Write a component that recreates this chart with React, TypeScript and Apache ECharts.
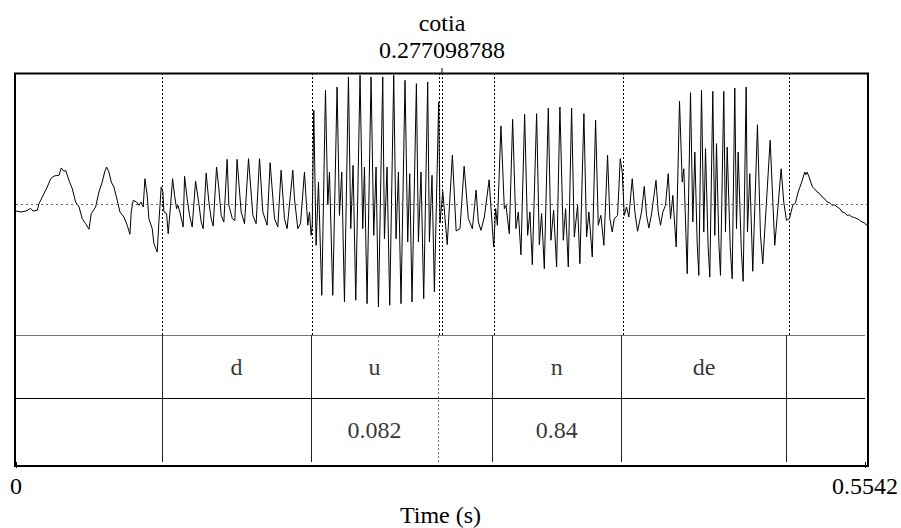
import React, { useEffect, useRef } from "react";
import * as echarts from "echarts";

// ---------- data ----------
const DURATION = 0.5542; // s
const X_TICKS = [0, 0.5542];
const SOUND_NAME = "cotia";
const CURSOR_TIME = 0.277098788;
const CURSOR_LABEL = "0.277098788";
const BOUNDARIES = [0.0952, 0.1926, 0.2755, 0.3108, 0.3953, 0.5029];
const DOTTED_TIER_BOUNDARY = 0.2755;
const TIER1_LABELS = ["", "d", "u", "", "n", "de", ""];
const TIER2_LABELS = ["", "", "0.082", "", "0.84", "", ""];

// waveform: [time in ms, relative amplitude]
const waveLead: number[][] = [
  [0, -0.05], [3.25, -0.057], [6.5, -0.05], [9.55, -0.03], [11.05, -0.05], [13.85, -0.044],
  [14.95, 0.006], [17.1, 0.057], [20.35, 0.134], [22.55, 0.198], [24.7, 0.218], [28, 0.224],
  [29.45, 0.28], [31.2, 0.254], [32.3, 0.262], [34.45, 0.185], [36.6, 0.121], [38.8, 0.019],
  [41, -0.019], [43.1, -0.109], [45.3, -0.147], [47.45, -0.19], [48.95, -0.07], [51.8, -0.019],
  [53.95, 0.096], [56.1, 0.172], [57.65, 0.249], [58.95, 0.287], [60.45, 0.249], [61.95, 0.172],
  [63.7, 0.134], [65.85, 0.032], [67.6, -0.057], [70.2, -0.096], [72.35, -0.159], [74.1, -0.228],
  [74.95, -0.057], [76.25, 0.032], [78.45, 0.019], [79.95, -0.006], [81.45, 0.019], [82.75, -0.019],
  [83.85, 0.198], [85.35, 0.07], [86.45, -0.109], [88.6, -0.185], [89.7, -0.3], [91.85, -0.364],
  [92.95, -0.134], [94.45, 0.134],
];
const waveD: number[][] = [
  [95.55, 0.096], [96.2, -0.057], [97.95, -0.07], [99, -0.224], [100.55, -0.006], [101.85, 0.198],
  [103.15, 0.07], [104.45, -0.032], [105.3, -0.006], [106.6, -0.057], [108.75, -0.172], [109.65, 0.216],
  [111.35, 0.044], [112.9, -0.083], [114.6, -0.172], [116.8, 0.18], [118.95, 0.006], [120.45, -0.134],
  [121.75, -0.185], [123.7, 0.241], [125.45, 0.019], [126.95, -0.109], [128.25, -0.165], [130.45, 0.287],
  [131.95, 0.121], [133.45, -0.083], [135.2, -0.134], [137.35, 0.346], [138.45, -0.006], [140.75, -0.109],
  [142.35, -0.123], [143.8, 0.346], [146.45, -0.057], [148.65, -0.147], [151.25, 0.351], [154.05, -0.083],
  [156.2, -0.147], [158.4, 0.351], [160.55, -0.057], [163.35, -0.159], [165.3, 0.32], [168.15, -0.109],
  [170.3, -0.172], [172.45, 0.262], [174.65, -0.109], [176.35, -0.185], [180.05, 0.262], [181.15, 0.044],
  [183.3, -0.185], [185.05, -0.147], [187.65, 0.249], [188.7, 0.044], [189.8, -0.159], [190.9, -0.057],
  [191.95, -0.236], [192.7, -0.157],
];
const waveU: number[][] = [
  [193.7, 0.722], [195.2, -0.313], [196.75, 0.172], [198.9, -0.696], [201.3, 0.875], [202.8, -0.004],
  [203.9, 0.249], [206.05, -0.696], [208.85, 0.9], [210.4, -0.083], [211.9, 0.249], [213.65, -0.747],
  [216.25, 0.977], [217.75, -0.185], [219.25, 0.3], [221, -0.734], [223.8, 0.99], [225.55, -0.185],
  [226.65, 0.287], [228.35, -0.76], [230.95, 0.977], [232.7, -0.236], [234.2, 0.287], [235.75, -0.785],
  [238.55, 0.977], [239.65, -0.262], [241.35, 0.287], [243.1, -0.772], [245.7, 0.99], [247.2, -0.262],
  [248.75, 0.249], [250.45, -0.76], [253.05, 0.952], [254.8, -0.287], [256.1, 0.236], [257.6, -0.747],
  [260.45, 0.926], [261.75, -0.287], [263.45, 0.249], [265.2, -0.722], [267.8, 0.939], [268.9, -0.287],
  [270.6, 0.224], [272.15, -0.67], [274.95, 0.785], [275.8, -0.142],
];
const waveGap: number[][] = [
  [277.6, 0.1], [280.5, -0.307], [283.85, 0.378], [286.3, -0.203], [288.8, -0.185], [291.5, 0.293],
  [294.25, -0.109], [296.85, -0.185], [299.3, 0.11], [300.75, -0.134], [302.45, -0.198], [304.65, -0.096],
  [307.75, 0.189], [310.7, -0.326],
];
const waveN: number[][] = [
  [312, -0.032], [313.1, -0.159], [315.45, 0.602], [317.65, -0.032], [318.7, -0.006], [320.9, -0.224],
  [323.05, 0.653], [325.2, -0.185], [326.75, -0.057], [328.45, -0.385], [330.85, 0.691], [332.8, -0.236],
  [334.3, -0.057], [335.85, -0.461], [338.65, 0.696], [340.4, -0.308], [341.9, -0.07], [343.65, -0.492],
  [346.25, 0.739], [347.95, -0.274], [349.7, -0.044], [351.65, -0.479], [353.8, 0.747], [356, -0.274],
  [357.5, -0.032], [359.25, -0.479], [361.4, 0.739], [363.15, -0.249], [365.3, -0.006], [366.8, -0.454],
  [369.4, 0.696], [371.15, -0.249], [372.65, -0.057], [374.85, -0.402], [377, 0.645], [378.75, -0.159],
  [380.45, -0.083], [382.4, -0.313], [384.8, 0.377], [386.3, -0.109], [387.85, -0.211], [389.15, -0.109],
  [391.3, -0.083], [393.05, 0.351], [394.35, 0.249],
];
const waveDe: number[][] = [
  [395.65, -0.083], [397.15, -0.019], [398.65, -0.096], [400.85, 0.198], [402.55, -0.057], [404.3, -0.205],
  [406.9, -0.057], [408.65, 0.139], [410.15, -0.083], [411.65, -0.18], [413.4, -0.073], [416.3, 0.185],
  [417.75, -0.057], [419.25, -0.159], [420.75, -0.057], [422.5, -0.006], [424.25, 0.236], [425.75, -0.109],
  [427.25, 0.07], [427.9, -0.057], [429.45, -0.326], [431.6, 0.791], [433.35, 0.172], [434.4, 0.274],
  [436.6, -0.53], [438.75, 0.857], [440.25, -0.134], [441.55, 0.402], [443.1, -0.3], [444.15, -0.543],
  [445.9, 0.875], [447.4, -0.211], [448.5, 0.428], [450.2, -0.32], [451.3, -0.556], [453.25, 0.867],
  [454.55, -0.236], [455.65, 0.466], [457.2, -0.3], [458.25, -0.543], [460.4, 0.867], [461.5, -0.211],
  [462.6, 0.44], [464.6, -0.33], [465.85, -0.569], [467.55, 0.893], [468.65, -0.185], [469.75, 0.402],
  [471.8, -0.35], [473, -0.589], [474.95, 0.9], [475.8, -0.211], [477.3, 0.236], [479.25, -0.512],
  [482.3, 0.611], [484.25, -0.236], [485.75, -0.454], [490.55, 0.492], [493.55, -0.313], [497.7, 0.274],
  [499.4, 0.019], [501.15, -0.121],
];
const waveTail: number[][] = [
  [503.1, -0.109], [505.25, -0.006], [507, 0.011], [508.75, 0.096], [510.9, 0.165], [513.05, 0.249],
  [513.8, 0.228], [514.6, 0.248], [516.1, 0.203], [518.05, 0.134], [519.6, 0.118], [521.1, 0.096],
  [522.7, 0.085], [524.35, 0.057], [526, 0.044], [527.6, 0.019], [529.2, 0.013], [530.85, -0.006],
  [532.5, -0.003], [534.1, -0.019], [535.7, -0.03], [537.35, -0.057], [539, -0.062], [540.6, -0.083],
  [542.2, -0.08], [543.85, -0.096], [545.5, -0.1], [547.1, -0.109], [548.7, -0.12], [550.35, -0.134],
  [551.9, -0.14], [553.15, -0.159], [554.2, -0.157],
];

// ---------- layout ----------
const FONT = "Liberation Serif";
const FS = 24;
const LEFT = 16;
const RIGHT = 33;
const TOP = 74;
const WAVE_BOTTOM = 335;
const BOTTOM = 466;

export default function App() {
  const ref = useRef<HTMLDivElement>(null);

  useEffect(() => {
    if (!ref.current) return;
    const chart = echarts.init(ref.current, undefined, { renderer: "svg" });

    const waveData = [waveLead, waveD, waveU, waveGap, waveN, waveDe, waveTail]
      .flat()
      .map(([ms, a]) => [ms / 1000, a]);

    const edges = [0, ...BOUNDARIES, DURATION];
    const tierPoints: any[] = [];
    for (let i = 0; i < edges.length - 1; i++) {
      const mid = (edges[i] + edges[i + 1]) / 2;
      if (TIER1_LABELS[i]) tierPoints.push({ value: [mid, 1.5], name: TIER1_LABELS[i] });
      if (TIER2_LABELS[i]) tierPoints.push({ value: [mid, 0.5], name: TIER2_LABELS[i] });
    }

    const dotted = { type: [2, 2] as any, color: "#000", width: 1 };

    chart.setOption({
      animation: false,
      backgroundColor: "#fff",
      grid: [
        { left: LEFT, right: RIGHT, top: TOP, height: WAVE_BOTTOM - TOP },
        { left: LEFT, right: RIGHT, top: WAVE_BOTTOM, height: BOTTOM - WAVE_BOTTOM },
      ],
      xAxis: [
        { gridIndex: 0, type: "value", min: 0, max: DURATION, show: false },
        {
          gridIndex: 1,
          type: "value",
          min: 0,
          max: DURATION,
          interval: DURATION,
          axisLine: { show: false },
          axisTick: { show: true, length: 6, lineStyle: { color: "#000", width: 1 } },
          splitLine: { show: false },
          axisLabel: {
            show: true,
            margin: 12,
            color: "#000",
            fontFamily: FONT,
            fontSize: FS,
            showMinLabel: true,
            showMaxLabel: true,
            formatter: (v: number) => {
              const t = X_TICKS.find((x) => Math.abs(x - v) < 1e-6);
              return t === undefined ? "" : String(t);
            },
          },
          name: "Time (s)",
          nameLocation: "middle",
          nameGap: 41,
          nameTextStyle: { color: "#000", fontFamily: FONT, fontSize: FS },
        },
      ],
      yAxis: [
        { gridIndex: 0, type: "value", min: -1, max: 1, show: false },
        { gridIndex: 1, type: "value", min: 0, max: 2, show: false },
      ],
      series: [
        {
          type: "line",
          xAxisIndex: 0,
          yAxisIndex: 0,
          data: waveData,
          showSymbol: false,
          symbol: "none",
          silent: true,
          lineStyle: { color: "#000", width: 1 },
          markLine: {
            silent: true,
            precision: 9,
            symbol: ["none", "none"],
            label: { show: false },
            data: [
              { yAxis: 0, lineStyle: { type: [2, 3], color: "#666", width: 1 } },
              ...BOUNDARIES.map((b) => ({ xAxis: b, lineStyle: dotted })),
              { xAxis: CURSOR_TIME, lineStyle: dotted },
            ],
          },
        },
        {
          type: "scatter",
          xAxisIndex: 1,
          yAxisIndex: 1,
          data: tierPoints,
          symbolSize: 1,
          silent: true,
          itemStyle: { color: "rgba(0,0,0,0)" },
          label: {
            show: true,
            position: "inside",
            formatter: "{b}",
            color: "#000",
            fontFamily: FONT,
            fontSize: FS,
          },
          markLine: {
            silent: true,
            precision: 9,
            symbol: ["none", "none"],
            label: { show: false },
            data: [
              { yAxis: 2, lineStyle: { type: "solid", color: "#777", width: 1 } },
              { yAxis: 1, lineStyle: { type: "solid", color: "#000", width: 1 } },
              ...BOUNDARIES.map((b) => ({
                xAxis: b,
                lineStyle:
                  b === DOTTED_TIER_BOUNDARY
                    ? { type: [2, 2] as any, color: "#777", width: 1 }
                    : { type: "solid", color: "#222", width: 1 },
              })),
            ],
          },
        },
      ],
    });

    const px = chart.convertToPixel({ xAxisIndex: 0 }, CURSOR_TIME) as number;
    const x0 = chart.convertToPixel({ xAxisIndex: 0 }, 0) as number;
    const x1 = chart.convertToPixel({ xAxisIndex: 0 }, DURATION) as number;
    chart.setOption({
      graphic: [
        {
          id: "frame",
          type: "rect",
          silent: true,
          shape: { x: x0 - 1, y: TOP - 0.5, width: x1 - x0 + 1, height: BOTTOM - TOP + 0.5 },
          style: { fill: "none", stroke: "#000", lineWidth: 2 },
          z: 10,
        },
        {
          id: "cursorTick",
          type: "line",
          silent: true,
          shape: { x1: px, y1: TOP - 6, x2: px, y2: TOP },
          style: { stroke: "#000", lineWidth: 1 },
          z: 10,
        },
        {
          id: "soundName",
          type: "text",
          silent: true,
          x: px,
          y: 23,
          style: {
            text: SOUND_NAME,
            align: "center",
            verticalAlign: "middle",
            fill: "#000",
            fontFamily: FONT,
            fontSize: FS,
          },
        },
        {
          id: "cursorLabel",
          type: "text",
          silent: true,
          x: px,
          y: 50,
          style: {
            text: CURSOR_LABEL,
            align: "center",
            verticalAlign: "middle",
            fill: "#000",
            fontFamily: FONT,
            fontSize: FS,
          },
        },
      ],
    });

    return () => chart.dispose();
  }, []);

  return (
    <div
      ref={ref}
      style={{ position: "fixed", left: 0, top: 0, width: 901, height: 528, background: "#fff" }}
    />
  );
}
